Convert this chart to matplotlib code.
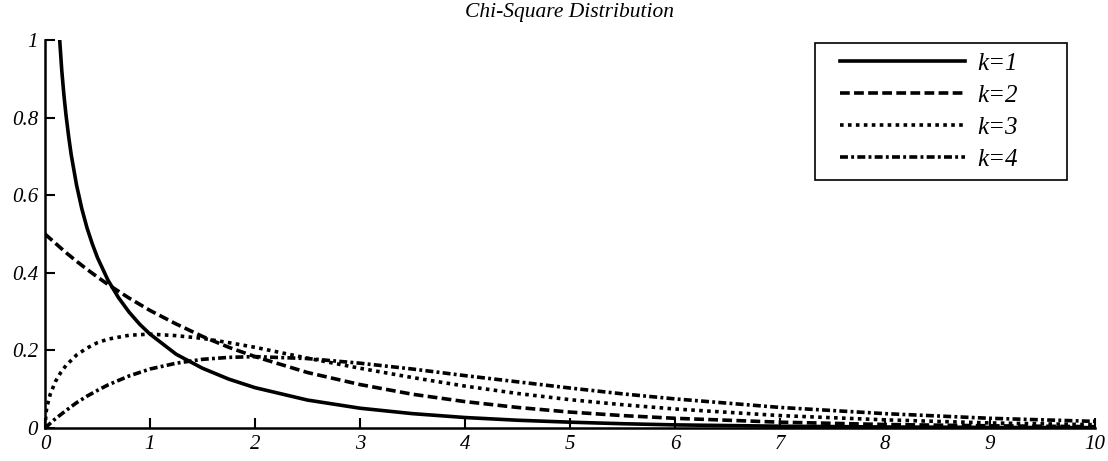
import numpy as np
import matplotlib
matplotlib.use('Agg')
import matplotlib.pyplot as plt
from matplotlib.lines import Line2D
from matplotlib.legend_handler import HandlerLine2D

# values
x_k1 = [0.14, 0.16, 0.18, 0.2, 0.225, 0.25, 0.3, 0.35, 0.4, 0.45, 0.5, 0.6, 0.7,
        0.8, 0.9, 1.0, 1.25, 1.5, 1.75, 2.0, 2.5, 3.0, 3.5, 4.0, 4.5, 5.0, 5.5,
        6.0, 7.0, 8.0, 9.0, 10.0]
y_k1 = [1.0, 0.921, 0.859, 0.807, 0.752, 0.704, 0.627, 0.566, 0.516, 0.475, 0.439,
        0.381, 0.336, 0.299, 0.268, 0.242, 0.190, 0.154, 0.126, 0.104, 0.072, 0.051,
        0.037, 0.027, 0.020, 0.015, 0.011, 0.008, 0.0046, 0.0026, 0.0015, 0.0009]

x_k3 = [0, 0.01, 0.02, 0.05, 0.1, 0.15, 0.2, 0.3, 0.4, 0.5, 0.6, 0.8, 1.0, 1.25,
        1.5, 1.75, 2.0, 2.5, 3.0, 3.5, 4.0, 4.5, 5.0, 5.5, 6.0, 7.0, 8.0, 9.0, 10.0]
y_k3 = [0, 0.040, 0.056, 0.087, 0.120, 0.143, 0.161, 0.188, 0.206, 0.220, 0.229,
        0.239, 0.242, 0.238, 0.231, 0.220, 0.208, 0.180, 0.154, 0.130, 0.108, 0.089,
        0.073, 0.060, 0.049, 0.032, 0.021, 0.013, 0.0085]

x_all = [0, 0.05, 0.1, 0.2, 0.3, 0.4, 0.5, 0.6, 0.8, 1.0, 1.25, 1.5, 1.75, 2.0,
         2.5, 3.0, 3.5, 4.0, 4.5, 5.0, 5.5, 6.0, 7.0, 8.0, 9.0, 10.0]
y_k2 = [0.5, 0.488, 0.476, 0.452, 0.430, 0.409, 0.389, 0.370, 0.335, 0.303, 0.268,
        0.236, 0.208, 0.184, 0.143, 0.112, 0.087, 0.068, 0.053, 0.041, 0.032, 0.025,
        0.015, 0.009, 0.0056, 0.0034]
y_k4 = [0, 0.012, 0.024, 0.045, 0.065, 0.082, 0.097, 0.111, 0.134, 0.152, 0.167,
        0.177, 0.182, 0.184, 0.179, 0.167, 0.152, 0.135, 0.119, 0.103, 0.088, 0.075,
        0.053, 0.037, 0.025, 0.017]

labels = ['k=1', 'k=2', 'k=3', 'k=4']
xticks = [0, 1, 2, 3, 4, 5, 6, 7, 8, 9, 10]
yticks = [0, 0.2, 0.4, 0.6, 0.8, 1]
ytick_labels = ['0', '0.2', '0.4', '0.6', '0.8', '1']


# legend line that leaves a bit of extra room on its left side
class ShiftedLine(HandlerLine2D):
    def get_xdata(self, legend, xdescent, ydescent, width, height, fontsize):
        xdata = [-xdescent + 0.65 * fontsize, -xdescent + width]
        return xdata, [-xdescent + 0.5 * width]


plt.rcParams['font.family'] = 'Liberation Serif'
plt.rcParams['font.style'] = 'italic'

fig = plt.figure(figsize=(11.08, 4.61), dpi=100)
ax = fig.add_axes([0.0406, 0.0716, 0.9476, 0.8416])

lw = 2.6
ax.plot(x_k1, y_k1, color='black', lw=lw, linestyle='-', label=labels[0])
ax.plot(x_all, y_k2, color='black', lw=lw, linestyle=(0, (2.7, 1.2)), label=labels[1])
ax.plot(x_k3, y_k3, color='black', lw=lw, linestyle=(0, (1, 1.2)), label=labels[2])
ax.plot(x_all, y_k4, color='black', lw=lw, linestyle=(0, (2.2, 0.9, 0.8, 0.9)), label=labels[3])

ax.set_xlim(0, 10)
ax.set_ylim(0, 1)
ax.set_xticks(xticks)
ax.set_xticklabels([str(t) for t in xticks])
ax.set_yticks(yticks)
ax.set_yticklabels(ytick_labels)

ax.spines['top'].set_visible(False)
ax.spines['right'].set_visible(False)
ax.spines['left'].set_linewidth(1.8)
ax.spines['bottom'].set_linewidth(1.8)
ax.tick_params(direction='in', length=7, width=1.5, labelsize=15, pad=5)

ax.set_title('Chi-Square Distribution', fontsize=15.5, pad=16.5)

# legend box stretched to the right, like the reference
leg = ax.legend(loc='upper left', bbox_to_anchor=(0.7356, 0.6067, 0.2274, 0.3),
                bbox_transform=fig.transFigure, mode='expand', borderaxespad=0,
                fontsize=18, handlelength=5.64, handler_map={Line2D: ShiftedLine()},
                fancybox=False, edgecolor='black', framealpha=1,
                borderpad=0.36, labelspacing=0.38, handletextpad=0.48)
leg.get_frame().set_linewidth(1.2)

fig.savefig('out.png', dpi=100)
